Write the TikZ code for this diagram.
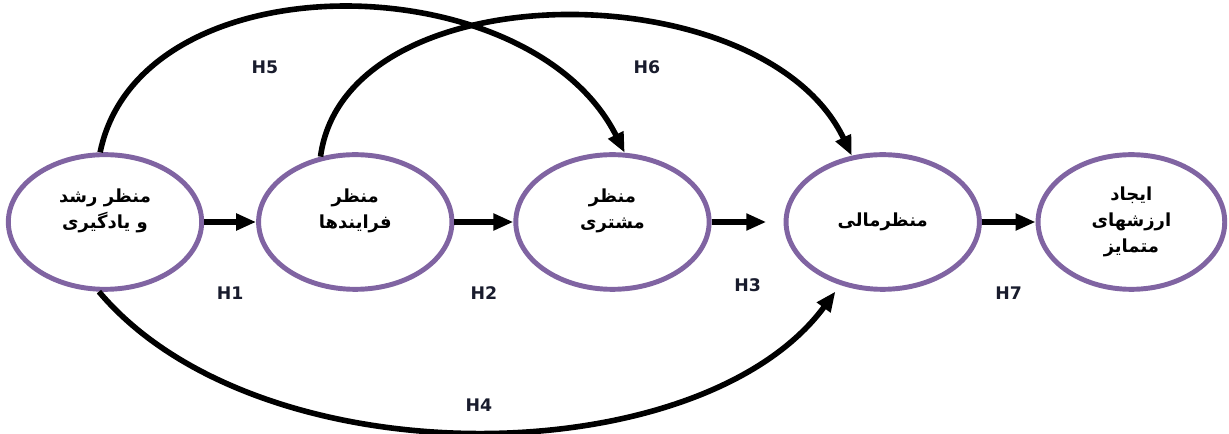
\documentclass[tikz,border=0pt]{standalone}
\usepackage{fontspec}
\usepackage{tikz}
\usetikzlibrary{arrows.meta,positioning,shapes.geometric}
\newfontfamily\arabicfont[Script=Arabic]{DejaVu Sans}
\newfontfamily\hypfont{DejaVu Sans}
\TeXXeTstate=1
\definecolor{ringpurple}{RGB}{128,100,162}
\definecolor{hypink}{RGB}{25,28,45}
\newcommand{\fatext}[1]{\beginR #1\endR}

\begin{document}
\begin{tikzpicture}[x=0.75pt,y=-0.75pt,
  persp/.style={ellipse,draw=ringpurple,line width=3.7pt,fill=white,minimum width=145pt,minimum height=101pt,align=center,font=\arabicfont\bfseries\fontsize{13.5}{19.5}\selectfont},
  arrow/.style={-{Triangle[length=15pt,width=12pt]},line width=4.2pt},
  hyp/.style={font=\hypfont\bfseries\fontsize{13}{15}\selectfont,text=hypink}
]
\useasboundingbox (0,0) rectangle (1229,434);
\node[persp] (learn) at (105,222) {\fatext{منظر رشد}\\\fatext{و یادگیری}\\\mbox{}};
\node[persp,right=39pt of learn] (process) {\fatext{منظر}\\\fatext{فرایندها}\\\mbox{}};
\node[persp,right=44.2pt of process] (customer) {\fatext{منظر}\\\fatext{مشتری}\\\mbox{}};
\node[persp,right=54pt of customer] (finance) {\fatext{منظرمالی}};
\node[persp,minimum width=140pt,right=40.3pt of finance] (value) {\fatext{ایجاد}\\\fatext{ارزشهای}\\\fatext{متمایز}};
\draw[arrow] (learn) -- node[hyp,below=43pt] (h1) {H1} (process);
\draw[arrow] (process) -- node[hyp,below=43pt] (h2) {H2} (customer);
\draw[arrow,shorten >=13pt] (customer) -- node[hyp,below=37pt] (h3) {H3} (finance);
\draw[arrow] (finance) -- node[hyp,below=43pt] (h7) {H7} (value);
% curved links
\draw[arrow] (learn.94) .. controls +(40,-195) and +(-95,-190) .. (customer.80);
\draw[arrow] (process.118) .. controls +(25,-187) and +(-88,-185) .. (finance.115);
\draw[arrow,shorten >=6pt] (learn.265) .. controls +(160,190) and +(-140,190) .. (finance.236);
\node[hyp] (h5) at (265,67) {H5};
\node[hyp] (h6) at (647,67) {H6};
\node[hyp] (h4) at (479,405) {H4};
\end{tikzpicture}
\end{document}
